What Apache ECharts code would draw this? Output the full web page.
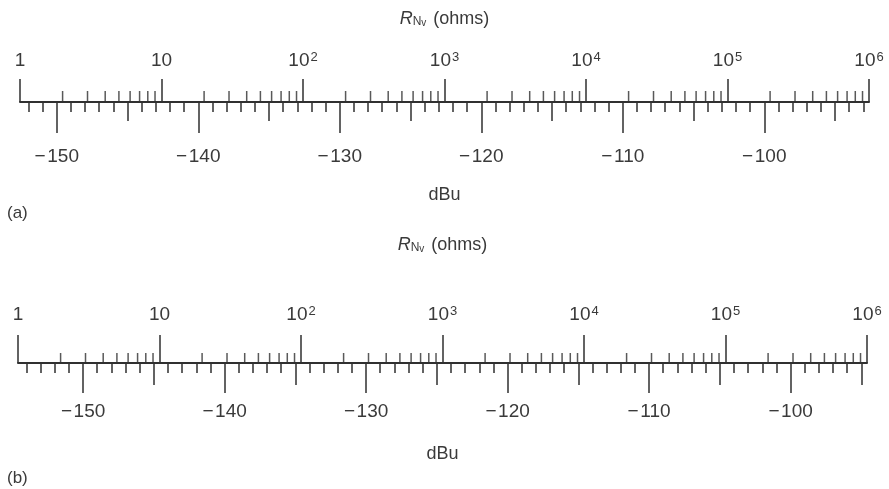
<!DOCTYPE html>
<html><head><meta charset="utf-8">
<script src="https://cdn.jsdelivr.net/npm/echarts@6/dist/echarts.min.js"></script>
<style>html,body{margin:0;padding:0;background:#fff}#c{width:889px;height:489px}</style>
</head><body><div id="c"></div>
<script>
// ---- data ----
const rMajor = [1, 10, 100, 1000, 10000, 100000, 1000000];
const rMinor = [2,3,4,5,6,7,8,9, 20,30,40,50,60,70,80,90, 200,300,400,500,600,700,800,900,
  2000,3000,4000,5000,6000,7000,8000,9000, 20000,30000,40000,50000,60000,70000,80000,90000,
  200000,300000,400000,500000,600000,700000,800000,900000];
const rRange = [1, 1000000];
const dbMajor = [-150, -140, -130, -120, -110, -100];
const dbHalf = [-145, -135, -125, -115, -105, -95];
const dbMinorA = [-152,-151,-150,-149,-148,-147,-146,-145,-144,-143,-142,-141,-140,-139,-138,-137,-136,-135,-134,-133,-132,-131,-130,-129,-128,-127,-126,-125,-124,-123,-122,-121,-120,-119,-118,-117,-116,-115,-114,-113,-112,-111,-110,-109,-108,-107,-106,-105,-104,-103,-102,-101,-100,-99,-98,-97,-96,-95,-94,-93];
const dbMinorB = [-154,-153,-152,-151,-150,-149,-148,-147,-146,-145,-144,-143,-142,-141,-140,-139,-138,-137,-136,-135,-134,-133,-132,-131,-130,-129,-128,-127,-126,-125,-124,-123,-122,-121,-120,-119,-118,-117,-116,-115,-114,-113,-112,-111,-110,-109,-108,-107,-106,-105,-104,-103,-102,-101,-100,-99,-98,-97,-96,-95];
const dbRangeA = [-152.6, -92.6];
const dbRangeB = [-154.6, -94.6];
const rTitle = '{i|R}{n|N}{v|v} (ohms)';
const dbTitle = 'dBu';
const panelLabels = ['(a)', '(b)'];

// ---- styles ----
const FONT = 'Liberation Sans';
const INK = '#303030';
const TXT = '#3a3a3a';

const chart = echarts.init(document.getElementById('c'), null, {renderer: 'canvas'});

const grids = [], xAxes = [], yAxes = [], series = [];

function panel(p) {
  const gi = grids.length;
  grids.push({left: p.left, width: 849, top: p.top, height: 1});
  yAxes.push({gridIndex: gi, type: 'value', min: 0, max: 1, show: false});
  const base = xAxes.length;
  // log R axis (top)
  xAxes.push({
    gridIndex: gi, type: 'log', logBase: 10, position: 'top',
    min: rRange[0], max: rRange[1], splitNumber: 6, interval: 1,
    axisLine: {show: true, lineStyle: {color: INK, width: 2}},
    axisTick: {show: true, length: p.rTickLen, lineStyle: {color: INK, width: 1.5}},
    minorTick: {show: false}, splitLine: {show: false},
    axisLabel: {
      margin: p.rLabelMargin, fontFamily: FONT, fontSize: 19, color: TXT,
      formatter: v => { const e = Math.round(Math.log10(v)); return e === 0 ? '1' : e === 1 ? '10' : '10{sup|' + e + '}'; },
      rich: {sup: {fontFamily: FONT, fontSize: 13, color: TXT, verticalAlign: 'top', padding: [0, 0, 6, 1]}}
    },
    name: rTitle, nameLocation: 'middle', nameGap: p.rNameGap,
    nameTextStyle: {fontFamily: FONT, fontSize: 18, color: TXT,
      rich: {
        i: {fontFamily: FONT, fontSize: 18, fontStyle: 'italic', color: TXT},
        n: {fontFamily: FONT, fontSize: 12, color: TXT, verticalAlign: 'bottom', padding: [6, 0, 0, 0]},
        v: {fontFamily: FONT, fontSize: 10, color: TXT, verticalAlign: 'bottom', padding: [8, 2, 0, 0]}
      }}
  });
  // dB major (bottom)
  xAxes.push({
    gridIndex: gi, type: 'value', position: 'bottom', min: p.dbRange[0], max: p.dbRange[1],
    axisLine: {show: false}, splitLine: {show: false},
    axisTick: {show: true, customValues: dbMajor, length: p.dbMajLen, lineStyle: {color: INK, width: 1.5}},
    axisLabel: {customValues: dbMajor, margin: p.dbLabelMargin, fontFamily: FONT, fontSize: 19, color: TXT,
      formatter: v => '\u2212\u200a' + Math.abs(v)},
    name: dbTitle, nameLocation: 'middle', nameGap: p.dbNameGap,
    nameTextStyle: {fontFamily: FONT, fontSize: 18, color: TXT}
  });
  // dB half (5 dB)
  xAxes.push({
    gridIndex: gi, type: 'value', position: 'bottom', min: p.dbRange[0], max: p.dbRange[1],
    axisLine: {show: false}, splitLine: {show: false}, axisLabel: {show: false},
    axisTick: {show: true, customValues: dbHalf, length: p.dbHalfLen, lineStyle: {color: INK, width: 1.5}}
  });
  // dB minor (1 dB)
  xAxes.push({
    gridIndex: gi, type: 'value', position: 'bottom', min: p.dbRange[0], max: p.dbRange[1],
    axisLine: {show: false}, splitLine: {show: false}, axisLabel: {show: false},
    axisTick: {show: true, customValues: p.dbMinor, length: p.dbMinLen, lineStyle: {color: INK, width: 1.5}}
  });
  // R minor ticks as scatter marks on the log axis
  series.push({
    type: 'scatter', xAxisIndex: base, yAxisIndex: gi, clip: false, silent: true,
    symbol: 'rect', symbolSize: [1.5, p.rMinLen], symbolOffset: [0, '-50%'],
    itemStyle: {color: INK}, data: rMinor.map(v => [v, 1]), animation: false
  });
}

panel({top: 101, left: 20, dbRange: dbRangeA, dbMinor: dbMinorA,
  rTickLen: 23, rMinLen: 10, rLabelMargin: 31, rNameGap: 73,
  dbMajLen: 31, dbHalfLen: 19, dbMinLen: 10, dbLabelMargin: 45, dbNameGap: 84});
panel({top: 362, left: 18, dbRange: dbRangeB, dbMinor: dbMinorB,
  rTickLen: 28, rMinLen: 9, rLabelMargin: 38, rNameGap: 108,
  dbMajLen: 30, dbHalfLen: 22, dbMinLen: 10, dbLabelMargin: 39, dbNameGap: 82});

chart.setOption({
  animation: false,
  backgroundColor: '#ffffff',
  grid: grids, xAxis: xAxes, yAxis: yAxes, series: series,
  graphic: [
    {type: 'text', left: 7, top: 205, style: {text: panelLabels[0], font: '17px "Liberation Sans"', fill: TXT}},
    {type: 'text', left: 7, top: 470, style: {text: panelLabels[1], font: '17px "Liberation Sans"', fill: TXT}}
  ]
});
</script></body></html>
